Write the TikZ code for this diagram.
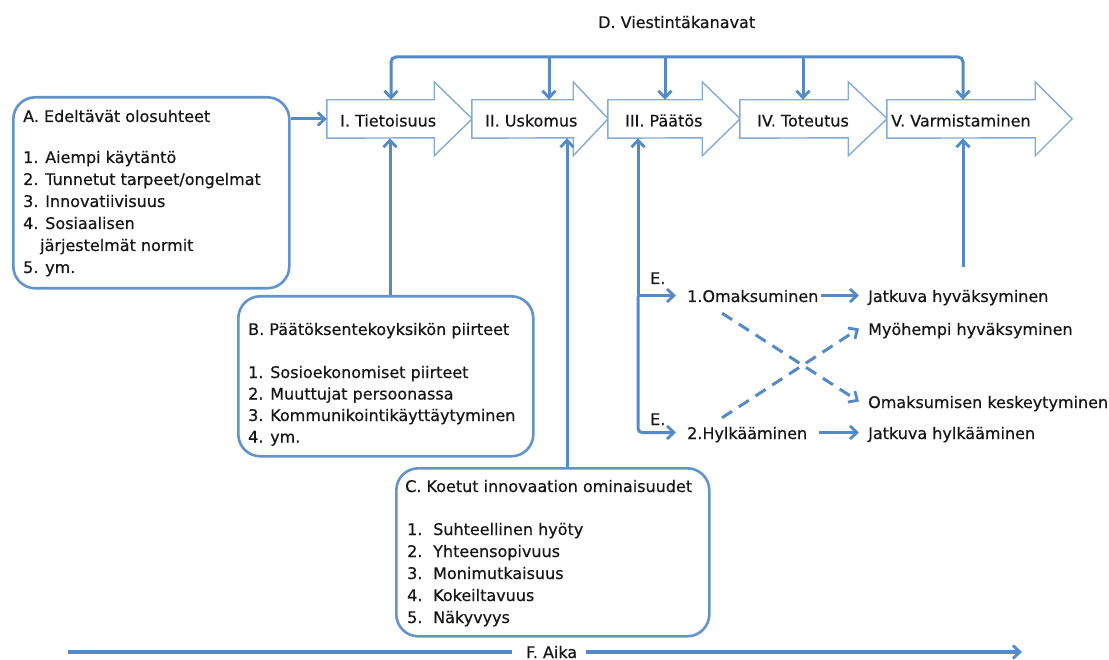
\documentclass[tikz,border=0pt]{standalone}
\usepackage{fontspec}
\setmainfont{DejaVu Sans}[FakeBold=0.45]
\usetikzlibrary{arrows.meta,calc}

\definecolor{cConn}{RGB}{86,138,198}
\definecolor{cBox}{RGB}{98,147,205}
\definecolor{cStage}{RGB}{132,170,215}
\definecolor{cInk}{RGB}{22,22,22}

% outline of a block arrow around a stage body: #1 node name, #2 head length
\newcommand\stageoutline[2]{%
  \draw[stageline] (#1.south west) -- (#1.north west) -- (#1.north east)
    -- ++(0,-18) -- ++(#2,37) -- ++(-#2,37) -- ++(0,-18) -- cycle;}

\begin{document}
\begin{tikzpicture}[x=1pt,y=-1pt,
  font=\fontsize{16}{22}\selectfont, text=cInk,
  stage/.style={minimum height=38pt, inner sep=0pt, draw=none},
  stageline/.style={draw=cStage, line width=1.4pt, fill=white, line join=miter},
  infobox/.style={draw=cBox, line width=2.6pt, rounded corners=22pt, fill=white,
    inner sep=0pt, anchor=north west},
  lbl/.style={inner sep=0pt, anchor=base west, text height=13pt, text depth=0pt},
  conn/.style={draw=cConn, line width=3pt},
  barb/.style={Straight Barb[length=7pt,width=13pt,line width=2.8pt]},
  arr/.style={-{Straight Barb[length=7pt,width=13pt,line width=2.8pt]}},
  dashline/.style={dash pattern=on 12pt off 8pt},
]
\useasboundingbox (0,0) rectangle (1109,660);

% ---------- stages of the process ----------
\node[stage, minimum width=107pt] (s1) at (380.5,119) {};
\node[stage, minimum width=101pt] (s2) at (522.5,119) {};
\node[stage, minimum width=94pt]  (s3) at (655,119) {};
\node[stage, minimum width=108pt] (s4) at (794,119) {};
\node[stage, minimum width=148pt] (s5) at (961,119) {};
\stageoutline{s1}{38}
\stageoutline{s2}{35}
\stageoutline{s3}{38}
\stageoutline{s4}{39}
\stageoutline{s5}{37}
\node[lbl] (t1) at (340,126.5) {I. Tietoisuus};
\node[lbl] (t2) at (485,126.5) {II. Uskomus};
\node[lbl] (t3) at (625,126.5) {III. Päätös};
\node[lbl] (t4) at (757,126.5) {IV. Toteutus};
\node[lbl] (t5) at (891,126.5) {V. Varmistaminen};

% ---------- communication channels ----------
\node[lbl] (D) at (598,28) {D. Viestintäkanavat};
\coordinate (busY) at (0,57);
\coordinate (p1) at ($(s1.north)+(10.5,0)$);
\coordinate (p2) at ($(s2.north)+(26.5,0)$);
\coordinate (p3) at ($(s3.north)+(10,0)$);
\coordinate (p4) at ($(s4.north)+(9,0)$);
\coordinate (p5) at ($(s5.north)+(2,0)$);
\draw[conn, {Straight Barb[length=7pt,width=13pt,line width=2.8pt]}-{Straight Barb[length=7pt,width=13pt,line width=2.8pt]}, rounded corners=5pt]
  (p1) -- (p1 |- busY) -- (p5 |- busY) -- (p5);
\draw[conn, arr] (p2 |- busY) -- (p2);
\draw[conn, arr] (p3 |- busY) -- (p3);
\draw[conn, arr] (p4 |- busY) -- (p4);

% ---------- A: prior conditions ----------
\node[infobox, minimum width=276pt, minimum height=191pt] (A) at (12,96) {};
\node[lbl] (A0) at (23,122) {A. Edeltävät olosuhteet};
\node[lbl] (A1) at (23,163) {1. Aiempi käytäntö};
\node[lbl] (A2) at (23,185) {2. Tunnetut tarpeet/ongelmat};
\node[lbl] (A3) at (23,207) {3. Innovatiivisuus};
\node[lbl] (A4) at (23,229) {4. Sosiaalisen};
\node[lbl] (A4b) at (40,251) {järjestelmät normit};
\node[lbl] (A5) at (23,273) {5. ym.};
\draw[conn, arr] (A.east |- s1.west) -- (s1.west);

% ---------- B: decision-making unit ----------
\node[infobox, minimum width=295pt, minimum height=160pt] (B) at (237,295) {};
\node[lbl] (B0) at (248,335) {B. Päätöksentekoyksikön piirteet};
\node[lbl] (B1) at (248,378) {1. Sosioekonomiset piirteet};
\node[lbl] (B2) at (248,399.5) {2. Muuttujat persoonassa};
\node[lbl] (B3) at (248,421) {3. Kommunikointikäyttäytyminen};
\node[lbl] (B4) at (248,442.5) {4. ym.};
\coordinate (bX) at (390,200);
\draw[conn, arr] (bX |- B.north) -- (bX |- s1.south);

% ---------- C: perceived characteristics ----------
\node[infobox, minimum width=313pt, minimum height=168pt] (C) at (395,467) {};
\node[lbl] (C0) at (405,492) {C. Koetut innovaation ominaisuudet};
\node[lbl] (C1) at (407,535) {\makebox[26pt][l]{1.}Suhteellinen hyöty};
\node[lbl] (C2) at (407,557) {\makebox[26pt][l]{2.}Yhteensopivuus};
\node[lbl] (C3) at (407,579) {\makebox[26pt][l]{3.}Monimutkaisuus};
\node[lbl] (C4) at (407,601) {\makebox[26pt][l]{4.}Kokeiltavuus};
\node[lbl] (C5) at (407,623) {\makebox[26pt][l]{5.}Näkyvyys};
\coordinate (cX) at (567,300);
\draw[conn, arr] (cX |- C.north) -- (cX |- s2.south);

% ---------- E: adoption and rejection ----------
\node[lbl] (E1) at (650,284) {E.};
\node[lbl] (E2) at (650,425) {E.};
\node[lbl] (om) at (687,302) {1.Omaksuminen};
\node[lbl] (hy) at (687,439) {2.Hylkääminen};
\node[lbl] (jh) at (868,302) {Jatkuva hyväksyminen};
\node[lbl] (my) at (868,335) {Myöhempi hyväksyminen};
\node[lbl] (ke) at (868,408) {Omaksumisen keskeytyminen};
\node[lbl] (jy) at (868,439) {Jatkuva hylkääminen};
\coordinate (eX) at (638,300);
\draw[conn, arr] (eX |- om.west) -- (eX |- s3.south);
\draw[conn, arr] (eX |- om.west) -- ($(om.west)+(-11,0)$);
\draw[conn, arr, rounded corners=4pt] (eX |- om.west) -- (eX |- hy.west) -- ($(hy.west)+(-11,0)$);
\draw[conn, arr] ($(om.east)+(2,0)$) -- ($(jh.west)+(-9,0)$);
\draw[conn, arr] ($(hy.east)+(12,0)$) -- ($(jy.west)+(-9,0)$);
\coordinate (ds1) at ($(om.south west)+(35,11)$);
\coordinate (ds2) at ($(hy.north west)+(35,-8)$);
\draw[conn, dashline, arr] (ds1) -- ($(ke.west)+(-9,0)$);
\draw[conn, dashline, arr] (ds2) -- ($(my.west)+(-9,0)$);

% ---------- confirmation feedback ----------
\coordinate (vLow) at (963,267);
\draw[conn, arr] (vLow) -- (vLow |- s5.south);

% ---------- F: time axis ----------
\node[lbl] (F) at (526,658) {F. Aika};
\coordinate (fL) at (68,652);
\coordinate (fR) at (1022,652);
\draw[conn, line width=4pt] (fL) -- ($(fL -| F.west)+(-14,0)$);
\draw[conn, line width=4pt, arr] ($(fR -| F.east)+(9,0)$) -- (fR);
\end{tikzpicture}
\end{document}
